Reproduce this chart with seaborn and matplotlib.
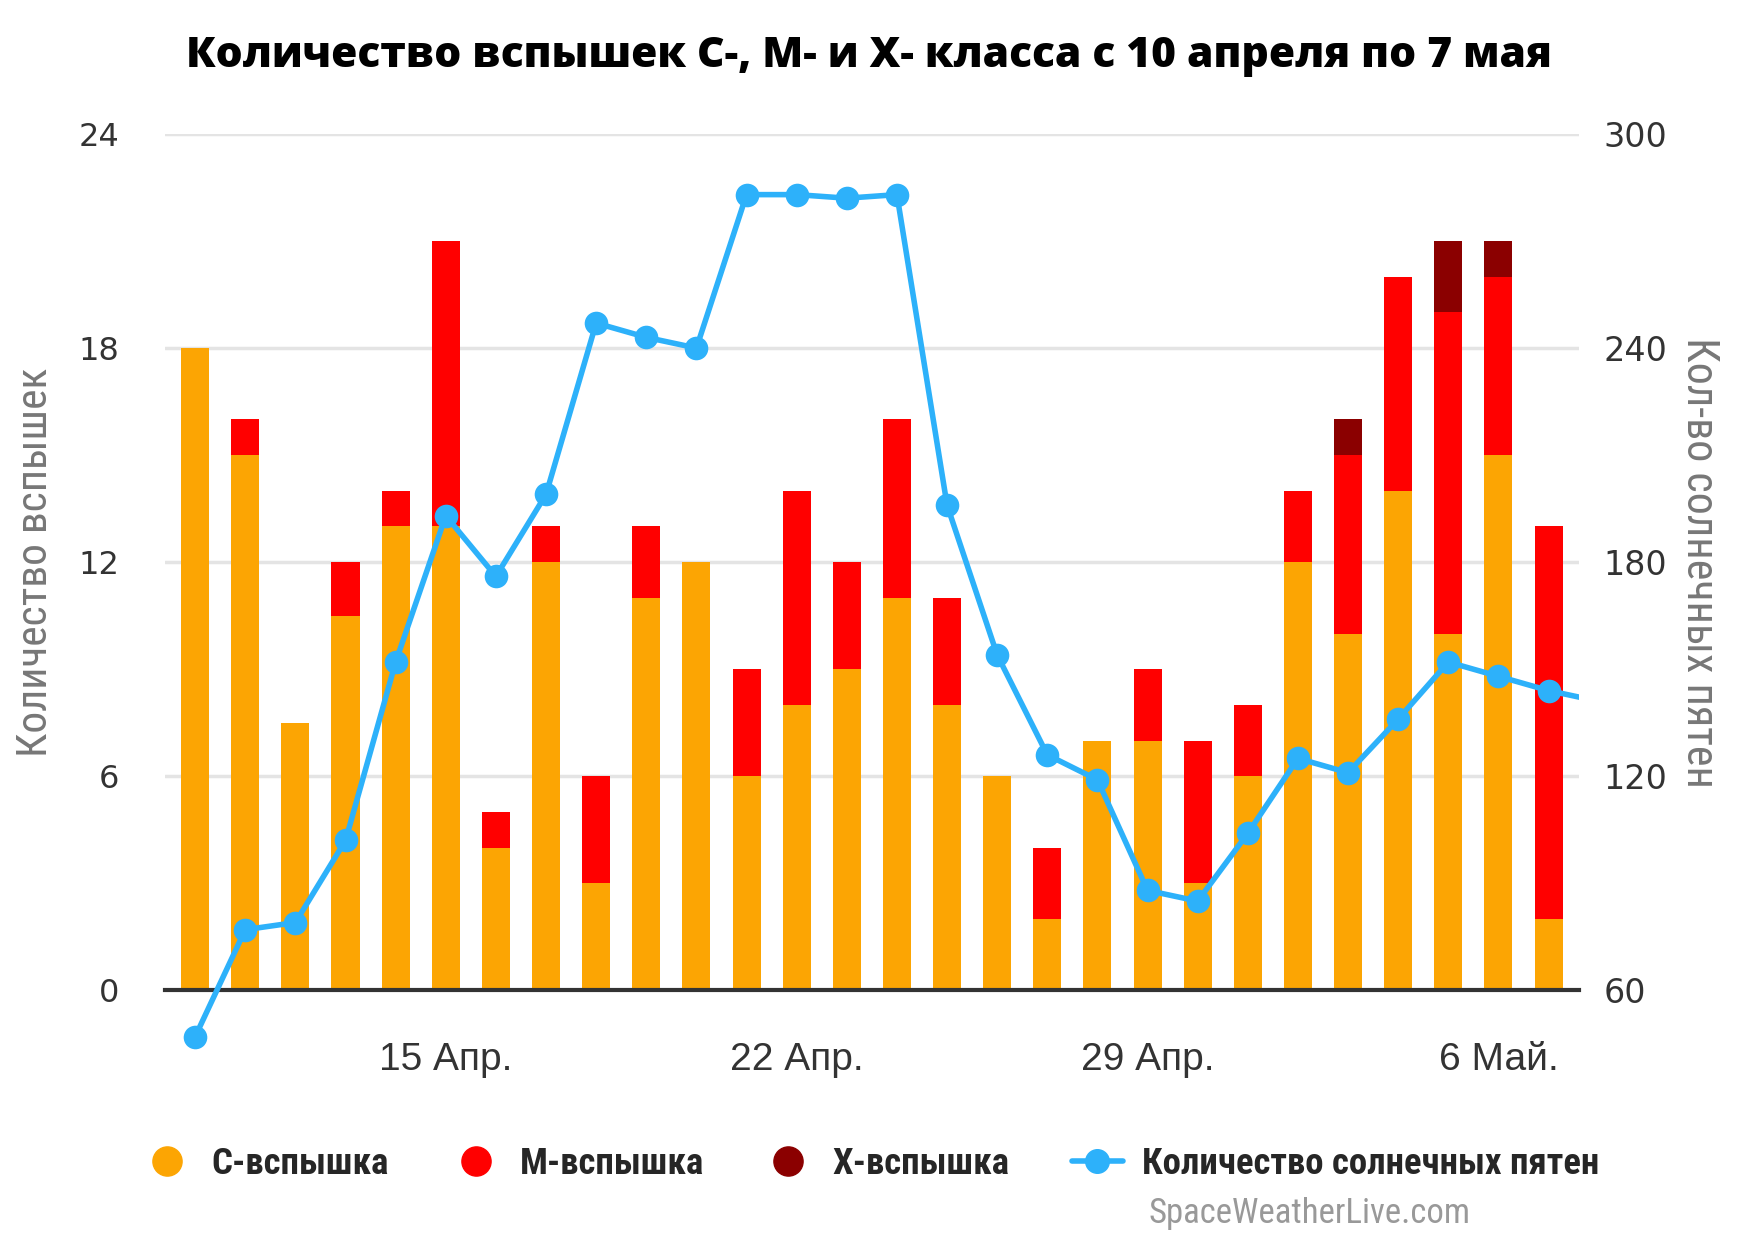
import matplotlib
matplotlib.use("Agg")
import matplotlib.pyplot as plt
from matplotlib.lines import Line2D
import seaborn as sns
import pandas as pd
import numpy as np

# data (10 Apr .. 7 May)
days = [f"{d} Апр." for d in range(10, 31)] + [f"{d} Май." for d in range(1, 8)]
c_flares = [18, 15, 7.5, 10.5, 13, 13, 4, 12, 3, 11, 12, 6, 8, 9,
            11, 8, 6, 2, 7, 7, 3, 6, 12, 10, 14, 10, 15, 2]
m_flares = [0, 1, 0, 1.5, 1, 8, 1, 1, 3, 2, 0, 3, 6, 3,
            5, 3, 0, 2, 0, 2, 4, 2, 2, 5, 6, 9, 5, 11]
x_flares = [0, 0, 0, 0, 0, 0, 0, 0, 0, 0, 0, 0, 0, 0,
            0, 0, 0, 0, 0, 0, 0, 0, 0, 1, 0, 2, 1, 0]
sunspots = [47, 77, 79, 102, 152, 193, 176, 199, 247, 243, 240, 283, 283, 282,
            283, 196, 154, 126, 119, 88, 85, 104, 125, 121, 136, 152, 148, 144]
sunspot_next = 141  # 8 May, only the start of the segment is visible
tick_days = ["15 Апр.", "22 Апр.", "29 Апр.", "6 Май."]

C_COL = "#FCA503"
M_COL = "#FF0000"
X_COL = "#8B0000"
LINE_COL = "#2DB1FA"
NARROW = ["Roboto Condensed", "PT Sans Narrow", "Liberation Sans"]

sns.set_style("white")
plt.rcParams["font.family"] = ["Liberation Sans", "DejaVu Sans"]

df = pd.DataFrame({"day": days, "C": c_flares, "M": m_flares, "X": x_flares})
cm = np.array(c_flares) + np.array(m_flares)

fig = plt.figure(figsize=(17.56, 12.52), dpi=100)
ax = fig.add_axes([0.094, 0.209, 0.805, 0.684])

sns.barplot(data=df, x="day", y="C", order=days, color=C_COL, saturation=1,
            width=0.56, errorbar=None, ax=ax, linewidth=0)
sns.barplot(data=df, x="day", y="M", order=days, color=M_COL, saturation=1,
            width=0.56, errorbar=None, ax=ax, linewidth=0, bottom=np.array(c_flares))
sns.barplot(data=df, x="day", y="X", order=days, color=X_COL, saturation=1,
            width=0.56, errorbar=None, ax=ax, linewidth=0, bottom=cm)

ax.set_ylim(0, 24)
ax.set_yticks([0, 6, 12, 18, 24])
ax.yaxis.grid(True, color="#e4e4e4", linewidth=2.5)
ax.set_axisbelow(True)
for s in ["top", "left", "right"]:
    ax.spines[s].set_visible(False)
ax.spines["bottom"].set_color("#333333")
ax.spines["bottom"].set_linewidth(3)
ax.tick_params(axis="y", length=0, pad=33, labelsize=23, labelcolor="#333333")
for lab in ax.get_yticklabels():
    lab.set_family(["DejaVu Sans"])
ax.set_xticks([days.index(d) for d in tick_days])
ax.set_xticklabels(tick_days)
ax.tick_params(axis="x", length=20, width=2.2, color="#333333", pad=17,
               labelsize=28, labelcolor="#333333")
ax.set_xlabel("")
ax.set_ylabel("Количество вспышек", fontsize=31.3, color="#777777", labelpad=16,
              family=NARROW)

ax2 = ax.twinx()
sns.lineplot(x=np.arange(len(sunspots)), y=sunspots, ax=ax2, color=LINE_COL,
             linewidth=4, marker="o", markersize=17, markeredgewidth=0,
             clip_on=False, legend=False)
sns.lineplot(x=[len(sunspots) - 1, len(sunspots)], y=[sunspots[-1], sunspot_next],
             ax=ax2, color=LINE_COL, linewidth=4, legend=False)
ax2.set_ylim(60, 300)
ax2.set_yticks([60, 120, 180, 240, 300])
ax2.tick_params(axis="y", length=0, pad=18, labelsize=24, labelcolor="#333333")
for lab in ax2.get_yticklabels():
    lab.set_family(["DejaVu Sans"])
for s in ax2.spines.values():
    s.set_visible(False)
ax2.set_ylabel("Кол-во солнечных пятен", rotation=270, fontsize=31.7, color="#777777",
               labelpad=38, family=NARROW)
ax.set_xlim(-0.6, 27.6)

fig.text(0.495, 0.955, "Количество вспышек C-, M- и X- класса с 10 апреля по 7 мая",
         ha="center", va="center", fontsize=30.6, fontweight=800, color="black",
         family=["Open Sans", "DejaVu Sans"])

# legend: four single-item legends on an even spacing, as in the reference
handles = [
    Line2D([], [], ls="none", marker="o", markersize=21, color=C_COL),
    Line2D([], [], ls="none", marker="o", markersize=21, color=M_COL),
    Line2D([], [], ls="none", marker="o", markersize=21, color=X_COL),
    Line2D([], [], color=LINE_COL, lw=4, marker="o", markersize=17),
]
labels = ["C-вспышка", "M-вспышка", "X-вспышка", "Количество солнечных пятен"]
legend_x = [0.0804, 0.2564, 0.4343, 0.6103]
for h, lab, lx in zip(handles, labels, legend_x):
    fig.legend([h], [lab], loc="center left", bbox_to_anchor=(lx, 0.07),
               frameon=False, borderpad=0, borderaxespad=0,
               handlelength=1.4, handletextpad=0.5,
               prop={"family": NARROW, "weight": "bold", "size": 26.5})

fig.text(0.746, 0.031, "SpaceWeatherLive.com", ha="center", va="center",
         fontsize=25, color="#999999", family=NARROW)

fig.savefig("out.png", dpi=100)
